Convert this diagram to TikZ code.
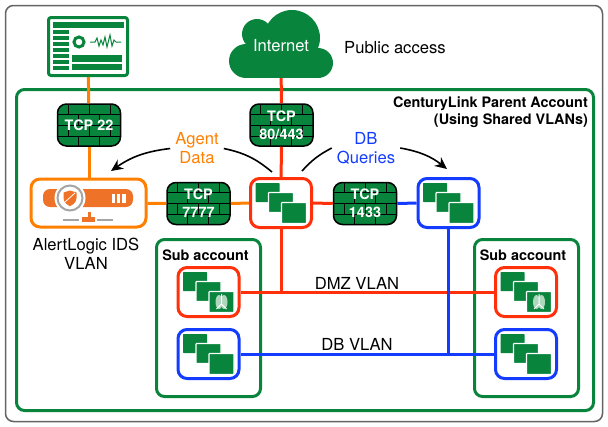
\documentclass[tikz,border=0pt]{standalone}
\usepackage{fontspec}
\setmainfont{TeX Gyre Heros}
\usetikzlibrary{arrows.meta}
\definecolor{clgreen}{RGB}{8,132,61}
\definecolor{clorange}{RGB}{255,128,0}
\definecolor{clbar}{RGB}{238,114,40}
\definecolor{clred}{RGB}{255,48,10}
\definecolor{clblue}{RGB}{20,60,255}
\definecolor{clframe}{RGB}{100,100,100}
\definecolor{clgray}{RGB}{165,165,165}
\definecolor{clpale}{RGB}{175,215,190}

\begin{document}
\begin{tikzpicture}
          [x=1pt,y=-1pt,
            every node/.style={inner sep=5,font=\fontsize{16.6}{19}\selectfont,align=center},
            frame/.style={rectangle,draw=clgreen,line width=3,rounded corners=8},
            box/.style={rectangle,line width=3,rounded corners=9,minimum width=61,minimum height=49},
            head/.style={font=\fontsize{14.4}{17}\selectfont\bfseries},
            link/.style={line width=3},
            flow/.style={-{Stealth[length=12,width=11]},line width=1.6,black},
            firewall/.style={rectangle,draw=black,line width=1.5,rounded corners=9,fill=clgreen,
              text=white,inner sep=0,minimum width=63,minimum height=42,
              font=\fontsize{14.4}{18}\selectfont\bfseries,
              path picture={
                \foreach \y in {-11,0,11}
                  \draw[black,line width=0.7] (path picture bounding box.center)+(-33,\y) -- +(33,\y);
                \foreach \y in {-22,0} \foreach \x in {-21,0,21}
                  \draw[black,line width=0.7] (path picture bounding box.center)+(\x,\y) -- +(\x,\y+11);
                \foreach \y in {-11,11} \foreach \x in {-11,10}
                  \draw[black,line width=0.7] (path picture bounding box.center)+(\x,\y) -- +(\x,\y+11);
              }},
            stack/.pic={
              \fill[clgreen,rounded corners=0.6] (-25.5,-20) rectangle (-1.5,-1);
              \fill[clgreen,draw=white,line width=1.2,rounded corners=0.6] (-12.5,-10.5) rectangle (12.5,9.5);
              \fill[clgreen,draw=white,line width=1.2,rounded corners=0.6] (0.5,-0.5) rectangle (25.5,20.5);
            },
            leafstack/.pic={
              \pic {stack};
              \fill[clpale] (10.5,10) ellipse (3.5 and 7);
              \fill[clpale] (15.5,10) ellipse (3.5 and 7);
              \draw[white,line width=1] (13,2) -- (13,13) (13,12) -- (8,17) (13,12) -- (18,17);
            },
          ]

          \node[rectangle,draw=clframe,line width=1.5,rounded corners=8,minimum width=597,minimum height=416] (outer) at (304,213.5) {};
          \node[frame,minimum width=577,minimum height=321] (parent) at (305,250) {};
          \node[head,anchor=east,align=right] (title) at (593,112.5) {CenturyLink Parent Account\\(Using Shared VLANs)};

          \useasboundingbox (0,0) rectangle (608,426);

          \fill[clgreen] (257,34) circle (15);
          \fill[clgreen] (292,38) circle (28);
          \fill[clgreen] (246,61) circle (17);
          \fill[clgreen] (318,63) circle (15);
          \fill[clgreen] (246,60) rectangle (318,78);
          \fill[clgreen] (257,34) rectangle (300,62);
          \node[text=white,minimum width=104,minimum height=64] (internet) at (281,46) {Internet};
          \node[anchor=west] (public) at (339,48) {Public access};

          \node[rectangle,draw=clgreen,line width=3,rounded corners=2.5,minimum width=79,minimum height=58] (report) at (88,46.5) {};
          \fill[clgreen] (53,22) rectangle (124,28);
          \fill[clgreen] (72,55) rectangle (122,61.5);
          \fill[clgreen] (72,63.5) rectangle (122,70);
          \foreach \y in {30,36,42,48,54,60,66}
            \fill[clgreen] (53,\y) rectangle (68.5,\y+3.8);
          \draw[clgreen,line width=3] (79,42) circle (5);
          \draw[clgreen,line width=1] (90,42) -- (95,42) -- (97,38) -- (99,46) -- (101,40) -- (103,45) -- (105,37)
            -- (107,47) -- (110,35) -- (112,46) -- (114,40) -- (116,42) -- (121,42);

          \node[frame,minimum width=104,minimum height=157] (subl) at (208.5,318) {};
          \node[frame,minimum width=104,minimum height=157] (subr) at (526.5,318) {};
          \node[head] (sublabl) at (205.5,255) {Sub account};
          \node[head] (sublabr) at (523,255) {Sub account};

          \node[box,draw=clorange,minimum width=115,minimum height=48] (ids) at (88.5,203) {};
          \node[box,draw=clred] (web) at (281,203) {};
          \node[box,draw=clblue] (db) at (448.5,203) {};
          \node[box,draw=clred] (redl) at (208.5,292) {};
          \node[box,draw=clblue] (bluel) at (208.5,354) {};
          \node[box,draw=clred] (redr) at (526,292) {};
          \node[box,draw=clblue] (bluer) at (526,354) {};

          \pic at (web) {stack};
          \pic at (db) {stack};
          \pic at (redl) {leafstack};
          \pic at (bluel) {stack};
          \pic at (redr) {leafstack};
          \pic at (bluer) {stack};

          \fill[clbar,rounded corners=7] (43,189) rectangle (133,207);
          \fill[white] (70,198) circle (15.5);
          \draw[clgray,line width=2] (70,198) circle (12.5);
          \fill[clbar] (63.5,192.5) -- (70,190.5) -- (76.5,192.5) -- (76.5,198) .. controls (76.5,202) and (73,205) .. (70,206)
            .. controls (67,205) and (63.5,202) .. (63.5,198) -- cycle;
          \draw[white,line width=0.8] (65,202) -- (75,193);
          \foreach \x in {112,117.2,122.4}
            \fill[white] (\x,194) rectangle (\x+3.2,203);
          \fill[clbar] (82,217) rectangle (95,222);
          \fill[clbar] (88,212) rectangle (91,217);
          \fill[clgray] (63,219) rectangle (79,221);
          \fill[clgray] (97,219) rectangle (113,221);

          \node (idslabel) at (86,254) {AlertLogic IDS\\VLAN};

          \node[firewall] (fwssh) at (89,125) {TCP 22};
          \node[firewall] (fwweb) at (281.5,125) {TCP\\80/443};
          \node[firewall] (fwagent) at (198.5,203.5) {TCP\\7777};
          \node[firewall] (fwdb) at (365,203.5) {TCP\\1433};

          \draw[link,clorange] (report) -- (fwssh);
          \draw[link,clorange] (fwssh) -- (fwssh |- ids.north);
          \draw[link,clorange] (ids) -- (fwagent);
          \draw[link,clorange] (fwagent) -- (web);
          \draw[link,clred] (internet) -- (fwweb);
          \draw[link,clred] (fwweb) -- (web);
          \draw[link,clred] (web) -- (fwdb);
          \draw[link,clblue] (fwdb) -- (db);
          \draw[link,clred] (redl) -- (redr);
          \draw[link,clblue] (bluel) -- (bluer);
          \draw[link,clred] (web.south) -- (web.south |- redl.east);
          \draw[link,clblue] (db.south) -- (db.south |- bluel.east);

          \node (dmz) at (357,283) {DMZ VLAN};
          \node (dbvlan) at (357,344) {DB VLAN};

          \node[text=clorange] (agent) at (197,148.5) {Agent\\Data};
          \node[text=clblue] (queries) at (366,148) {DB\\Queries};
          \coordinate (idsin) at (111,171);
          \coordinate (webout) at (272,172);
          \coordinate (webin) at (302,171);
          \coordinate (dbin) at (447,169);
          \draw[flow] (agent.west) to[bend right=14] (idsin);
          \draw[line width=1.6] (agent.east) to[bend left=14] (webout);
          \draw[line width=1.6] (queries.west) to[bend right=10] (webin);
          \draw[flow] (queries.east) to[bend left=14] (dbin);
        \end{tikzpicture}
\end{document}
